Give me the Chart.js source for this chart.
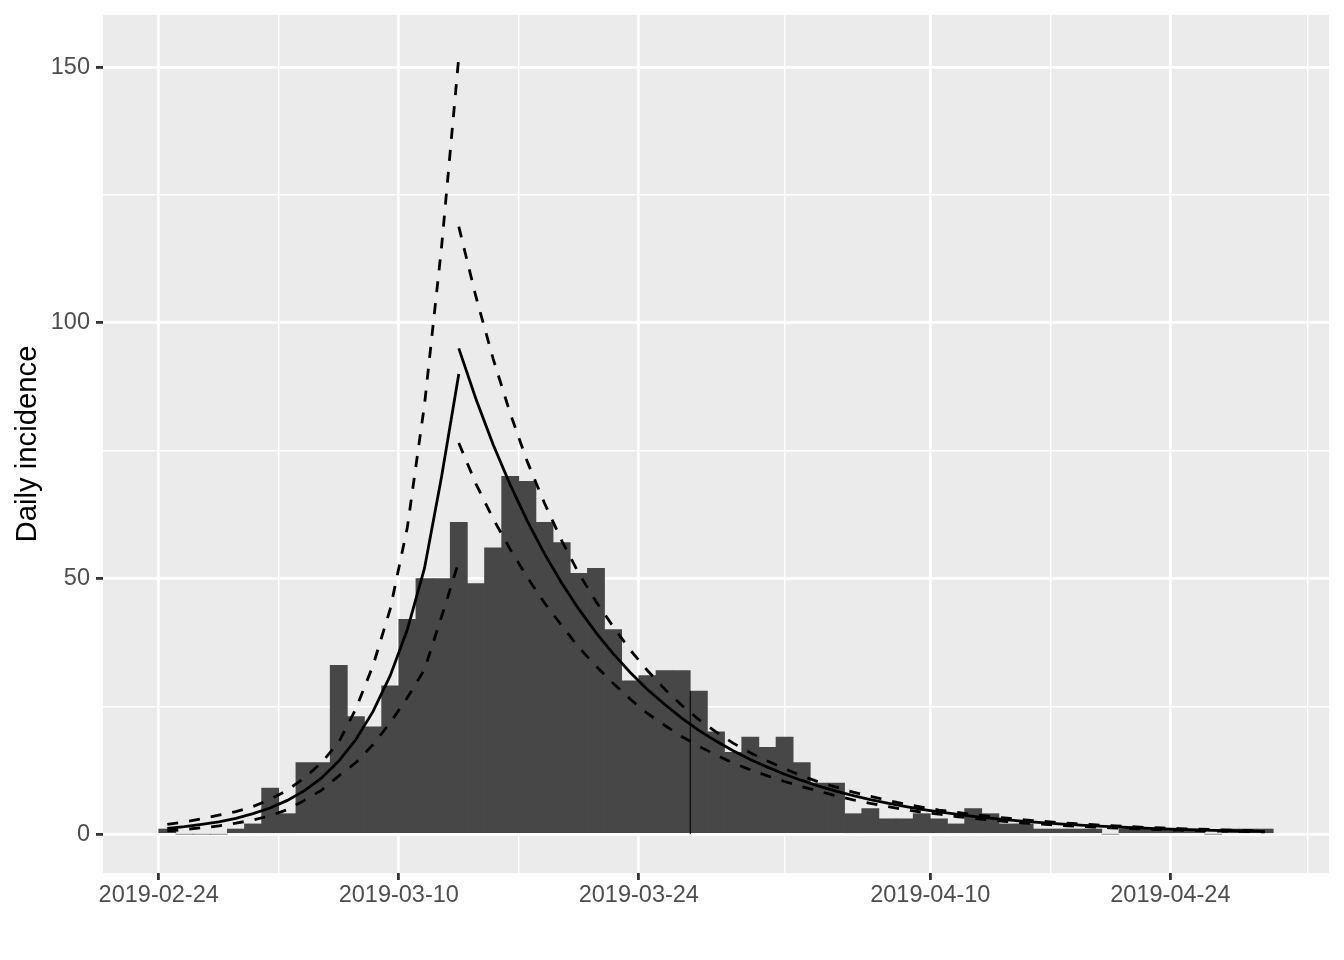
<!DOCTYPE html>
<html>
<head>
<meta charset="utf-8">
<title>Daily incidence</title>
<script src="https://cdn.jsdelivr.net/npm/chart.js@4.4.1/dist/chart.umd.min.js"></script>
<style>
  html, body { margin: 0; padding: 0; background: #ffffff; }
  #wrap { width: 1344px; height: 960px; }
</style>
</head>
<body>
<div id="wrap"><canvas id="chart" width="1344" height="960"></canvas></div>
<script>
// daily case counts, one per day starting 2019-02-24 (day 0)
const incidence = [1, 0, 0, 0, 1, 2, 9, 4, 14, 14, 33, 23, 21, 29, 42, 50, 50, 61, 49, 56,
  70, 69, 61, 57, 51, 52, 40, 30, 31, 32, 32, 28, 20, 16, 19, 17, 19, 14, 10, 10,
  4, 5, 3, 3, 4, 3, 2, 5, 4, 2, 2, 1, 1, 1, 1, 0, 1, 1, 1, 1, 1, 0, 1, 1, 1];

// fitted growth phase, days 0..17
const fit1 = [1.1, 1.45, 1.9, 2.4, 3.1, 4.0, 5.1, 6.6, 8.5, 11, 14.3, 18.5, 24, 31, 40, 52, 70, 90];
const upper1 = [1.9, 2.4, 3.0, 3.7, 4.4, 5.4, 6.8, 8.6, 11, 14, 18, 24.5, 33, 44, 60, 84, 115, 152];
const lower1 = [0.64, 0.91, 1.24, 1.6, 2.14, 2.76, 3.6, 4.8, 6.6, 8.6, 11.4, 14, 17.5, 21.8, 26.7, 32.2, 42.6, 53.3];

// fitted decay phase, days 17..64
const fit2 = [95, 85.1, 76.2, 68.3, 61.2, 54.8, 49.1, 44.0, 39.4, 35.3, 31.6, 28.3, 25.4, 22.7, 20.3, 18.2,
  16.3, 14.6, 13.1, 11.7, 10.5, 9.4, 8.4, 7.55, 6.76, 6.06, 5.43, 4.86, 4.35, 3.90, 3.49, 3.13,
  2.80, 2.51, 2.25, 2.01, 1.80, 1.62, 1.45, 1.30, 1.16, 1.04, 0.93, 0.83, 0.75, 0.67, 0.60, 0.54];
const upper2 = [118.8, 105.1, 93.0, 82.3, 72.8, 64.7, 57.4, 51.0, 45.5, 40.6, 36.0, 32.0, 28.4, 25.2, 22.4, 20.0,
  17.8, 15.9, 14.3, 12.8, 11.4, 10.2, 9.2, 8.2, 7.4, 6.6, 5.9, 5.3, 4.7, 4.3, 3.84, 3.46,
  3.11, 2.80, 2.52, 2.26, 2.03, 1.84, 1.65, 1.49, 1.33, 1.21, 1.08, 0.97, 0.89, 0.79, 0.71, 0.65];
const lower2 = [76.5, 68.5, 61.7, 55.7, 50.2, 45.2, 40.8, 36.5, 32.9, 29.5, 26.4, 23.6, 21.3, 19.1, 17.2, 15.5,
  13.9, 12.6, 11.4, 10.3, 9.3, 8.4, 7.5, 6.7, 6.0, 5.4, 4.8, 4.3, 3.9, 3.45, 3.07, 2.74,
  2.44, 2.17, 1.94, 1.73, 1.54, 1.38, 1.23, 1.10, 0.98, 0.87, 0.78, 0.69, 0.63, 0.56, 0.50, 0.45];
const phase1Start = 0;
const phase2Start = 17;

// thin dark seam visible at the left edge of one bar
const seamDay = [31, 31];
const seamCount = [0, 28];

// axis ticks (x in days since 2019-02-24)
const xTickDays = [0, 14, 28, 45, 59];
const xTickLabels = ['2019-02-24', '2019-03-10', '2019-03-24', '2019-04-10', '2019-04-24'];
const xMinorDays = [7, 21, 36.5, 52, 67];
const yTicks = [0, 50, 100, 150];
const yMinor = [25, 75, 125];

const FONT = "'Liberation Sans', Arial, Helvetica, sans-serif";

// a value on day d is drawn at the middle of that day
function points(vals, first) {
    return vals.map((v, i) => ({ x: first + i + 0.5, y: v }));
}

function curve(vals, first, dashed) {
    return {
        type: 'line',
        data: points(vals, first),
        borderColor: '#000000',
        borderWidth: 2.8,
        borderDash: dashed ? [11, 11] : [],
        borderCapStyle: 'butt',
        pointRadius: 0,
        tension: 0,
        fill: false,
        order: 1
    };
}

// grey panel behind the grid
const panelBg = {
    id: 'panelBg',
    beforeDraw(chart) {
        const { ctx, chartArea: a } = chart;
        ctx.save();
        ctx.fillStyle = '#EBEBEB';
        ctx.fillRect(a.left, a.top, a.right - a.left, a.bottom - a.top);
        ctx.restore();
    }
};

function gridOpts(majors) {
    const isMajor = c => c.tick && majors.includes(c.tick.value);
    return {
        color: '#FFFFFF',
        lineWidth: c => isMajor(c) ? 2.8 : 1.4,
        drawTicks: true,
        tickLength: 7,
        tickWidth: 2.8,
        tickColor: c => isMajor(c) ? '#333333' : 'rgba(0,0,0,0)',
        offset: false
    };
}

new Chart(document.getElementById('chart'), {
    type: 'bar',
    data: {
        datasets: [
            {
                type: 'bar',
                data: points(incidence, 0),
                backgroundColor: '#474747',
                borderWidth: 0,
                barPercentage: 1,
                categoryPercentage: 1,
                order: 2
            },
            curve(fit1, phase1Start, false),
            curve(upper1, phase1Start, true),
            curve(lower1, phase1Start, true),
            curve(fit2, phase2Start, false),
            curve(upper2, phase2Start, true),
            curve(lower2, phase2Start, true),
            {
                type: 'line',
                data: seamDay.map((d, i) => ({ x: d, y: seamCount[i] })),
                borderColor: '#000000',
                borderWidth: 1,
                pointRadius: 0,
                order: 1
            }
        ]
    },
    options: {
        responsive: false,
        animation: false,
        devicePixelRatio: 1,
        events: [],
        layout: { padding: { left: 0, top: 15, right: 15, bottom: 0 } },
        plugins: { legend: { display: false }, tooltip: { enabled: false } },
        scales: {
            x: {
                type: 'linear',
                min: -3.25,
                max: 68.25,
                offset: false,
                afterBuildTicks: s => {
                    s.ticks = xTickDays.concat(xMinorDays).sort((a, b) => a - b).map(v => ({ value: v }));
                },
                afterFit: s => {
                    s.height = 87;
                    s.paddingLeft = 0;
                    s.paddingRight = 0;
                },
                ticks: {
                    autoSkip: false,
                    maxRotation: 0,
                    minRotation: 0,
                    padding: 1,
                    color: '#4D4D4D',
                    font: { family: FONT, size: 23.5 },
                    callback: v => {
                        const i = xTickDays.indexOf(v);
                        return i >= 0 ? xTickLabels[i] : '';
                    }
                },
                grid: gridOpts(xTickDays),
                border: { display: false }
            },
            y: {
                type: 'linear',
                min: -7.6,
                max: 160.2,
                afterBuildTicks: s => {
                    s.ticks = yTicks.concat(yMinor).sort((a, b) => a - b).map(v => ({ value: v }));
                },
                afterFit: s => {
                    s.width = 103;
                    s.paddingTop = 0;
                    s.paddingBottom = 0;
                },
                ticks: {
                    autoSkip: false,
                    padding: 6,
                    color: '#4D4D4D',
                    font: { family: FONT, size: 23.5 },
                    callback: v => yTicks.includes(v) ? String(v) : ''
                },
                grid: gridOpts(yTicks),
                border: { display: false },
                title: {
                    display: true,
                    text: 'Daily incidence',
                    color: '#000000',
                    font: { family: FONT, size: 29.3 },
                    padding: { top: 10, bottom: 0 }
                }
            }
        }
    },
    plugins: [panelBg]
});
</script>
</body>
</html>
